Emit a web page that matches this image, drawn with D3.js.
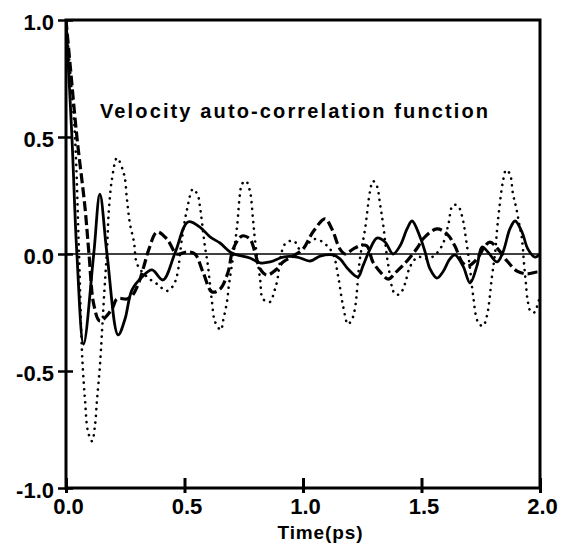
<!DOCTYPE html>
<html>
<head>
<meta charset="utf-8">
<script src="https://cdn.jsdelivr.net/npm/d3@7"></script>
<style>
  body { margin: 0; background: #fff; }
  text { font-family: "Liberation Sans", Arial, sans-serif; font-weight: bold; fill: #000; }
</style>
</head>
<body>
<div class="container"></div>
<script>
const width = 564;
const height = 548;
const plot = { left: 66, right: 540, top: 20, bottom: 488 };

const xTicks = [0, 0.5, 1.0, 1.5, 2.0];
const yTicks = [-1.0, -0.5, 0.0, 0.5, 1.0];
const title = 'Velocity auto-correlation function';
const xLabel = 'Time(ps)';

// [time (ps), value]
const solid = [
    [0, 1.0], [0.025, 0.5], [0.046, 0.0], [0.074, -0.385], [0.117, 0.0], [0.143, 0.256],
    [0.173, 0.0], [0.22, -0.346], [0.249, -0.278], [0.278, -0.154], [0.321, -0.098],
    [0.363, -0.068], [0.409, -0.111], [0.46, 0.004], [0.515, 0.137], [0.565, 0.115],
    [0.608, 0.073], [0.65, 0.047], [0.70, 0.004], [0.776, -0.017], [0.819, -0.038],
    [0.861, -0.034], [0.916, -0.013], [0.975, -0.013], [1.03, -0.03], [1.072, -0.009],
    [1.127, -0.004], [1.156, -0.021], [1.19, -0.064], [1.232, -0.098], [1.253, -0.051],
    [1.283, 0.021], [1.312, 0.068], [1.346, 0.051], [1.38, 0.0], [1.409, 0.034],
    [1.439, 0.107], [1.46, 0.141], [1.494, 0.073], [1.515, 0.009], [1.536, -0.064],
    [1.565, -0.103], [1.59, -0.077], [1.62, -0.021], [1.641, -0.004], [1.675, -0.051],
    [1.705, -0.124], [1.734, -0.051], [1.755, 0.03], [1.78, 0.009], [1.819, -0.034],
    [1.844, 0.009], [1.873, 0.107], [1.895, 0.141], [1.924, 0.094], [1.949, 0.021],
    [1.979, -0.013], [2.0, 0.0]
];

const dashed = [
    [0, 1.0], [0.02, 0.78], [0.046, 0.5], [0.08, 0.2], [0.097, 0.0], [0.118, -0.22],
    [0.143, -0.286], [0.194, -0.235], [0.215, -0.192], [0.257, -0.192], [0.278, -0.18],
    [0.308, -0.12], [0.329, -0.051], [0.35, 0.021], [0.384, 0.094], [0.426, 0.064],
    [0.468, 0.0], [0.511, 0.009], [0.544, 0.0], [0.578, -0.077], [0.616, -0.162],
    [0.65, -0.15], [0.684, -0.077], [0.705, 0.021], [0.743, 0.077], [0.776, 0.064],
    [0.797, 0.009], [0.819, -0.064], [0.848, -0.09], [0.89, -0.064], [0.916, -0.034],
    [0.958, -0.009], [1.0, 0.021], [1.042, 0.094], [1.093, 0.15], [1.122, 0.107],
    [1.156, 0.021], [1.177, 0.0], [1.211, 0.021], [1.249, 0.038], [1.27, 0.034],
    [1.295, -0.034], [1.333, -0.085], [1.359, -0.107], [1.397, -0.073], [1.439, -0.03],
    [1.485, 0.03], [1.506, 0.064], [1.565, 0.107], [1.608, 0.085], [1.641, 0.034],
    [1.671, -0.034], [1.696, -0.051], [1.734, -0.021], [1.768, 0.034], [1.789, 0.051],
    [1.823, 0.021], [1.861, -0.03], [1.903, -0.073], [1.945, -0.085], [1.987, -0.077],
    [2.0, -0.077]
];

const dotted = [
    [0, 1.0], [0.02, 0.75], [0.038, 0.5], [0.055, 0.0], [0.068, -0.43], [0.08, -0.62],
    [0.093, -0.76], [0.11, -0.80], [0.122, -0.735], [0.131, -0.62], [0.143, -0.48],
    [0.152, -0.33], [0.16, -0.19], [0.173, 0.02], [0.181, 0.19], [0.194, 0.32],
    [0.215, 0.41], [0.245, 0.34], [0.257, 0.235], [0.27, 0.128], [0.287, 0.05],
    [0.3, -0.043], [0.342, -0.098], [0.384, -0.128], [0.426, -0.158], [0.451, -0.137],
    [0.468, -0.094], [0.489, 0.064], [0.511, 0.192], [0.536, 0.278], [0.557, 0.248],
    [0.565, 0.205], [0.586, 0.034], [0.599, -0.051], [0.616, -0.205], [0.629, -0.29],
    [0.654, -0.325], [0.662, -0.29], [0.679, -0.205], [0.688, -0.128], [0.705, -0.013],
    [0.722, 0.12], [0.734, 0.256], [0.743, 0.3], [0.759, 0.312], [0.776, 0.269],
    [0.789, 0.15], [0.797, 0.064], [0.819, -0.107], [0.831, -0.192], [0.861, -0.205],
    [0.878, -0.162], [0.89, -0.12], [0.924, 0.043], [0.962, 0.056], [0.987, 0.021],
    [1.051, 0.064], [1.093, 0.043], [1.127, 0.0], [1.148, -0.094], [1.169, -0.222],
    [1.19, -0.3], [1.207, -0.278], [1.219, -0.235], [1.24, -0.021], [1.262, 0.107],
    [1.283, 0.269], [1.295, 0.312], [1.312, 0.29], [1.325, 0.214], [1.338, 0.128],
    [1.359, -0.043], [1.388, -0.171], [1.409, -0.171], [1.43, -0.128], [1.451, -0.056],
    [1.485, -0.013], [1.527, -0.021], [1.561, 0.0], [1.59, 0.043], [1.612, 0.12],
    [1.633, 0.209], [1.654, 0.205], [1.671, 0.162], [1.692, 0.034], [1.705, -0.064],
    [1.717, -0.171], [1.738, -0.29], [1.759, -0.308], [1.776, -0.265], [1.797, -0.098],
    [1.81, 0.0], [1.818, 0.094], [1.827, 0.184], [1.844, 0.312], [1.857, 0.359],
    [1.873, 0.342], [1.886, 0.256], [1.899, 0.2], [1.912, 0.13], [1.924, 0.064],
    [1.932, -0.034], [1.94, -0.12], [1.949, -0.205], [1.962, -0.248], [1.979, -0.248],
    [1.992, -0.205], [2.0, -0.19]
];

const x = d3.scaleLinear().domain([0, 2]).range([plot.left, plot.right]);
const y = d3.scaleLinear().domain([-1, 1]).range([plot.bottom, plot.top]);

const svg = d3.select('.container')
    .append('svg')
    .attr('width', width)
    .attr('height', height);

svg.append('clipPath')
    .attr('id', 'clip')
    .append('rect')
    .attr('x', plot.left)
    .attr('y', plot.top - 1)
    .attr('width', plot.right - plot.left)
    .attr('height', plot.bottom - plot.top + 2);

// zero line
svg.append('line')
    .attr('x1', x(0)).attr('x2', x(2))
    .attr('y1', y(0)).attr('y2', y(0))
    .style('stroke', '#000')
    .style('stroke-width', 1.6);

const line = d3.line()
    .x(d => x(d[0]))
    .y(d => y(d[1]))
    .curve(d3.curveCatmullRom.alpha(0.5));

const series = [
    { data: dotted, width: 2.6, dash: '0.1 6.5', cap: 'round' },
    { data: dashed, width: 3.2, dash: '10 4', cap: 'butt' },
    { data: solid, width: 2.8, dash: null, cap: 'butt' }
];

svg.append('g')
    .attr('clip-path', 'url(#clip)')
    .selectAll('path')
    .data(series)
    .join('path')
    .attr('d', d => line(d.data))
    .style('fill', 'none')
    .style('stroke', '#000')
    .style('stroke-width', d => d.width)
    .style('stroke-dasharray', d => d.dash)
    .style('stroke-linecap', d => d.cap)
    .style('stroke-linejoin', 'round');

// frame
svg.append('rect')
    .attr('x', plot.left)
    .attr('y', plot.top)
    .attr('width', plot.right - plot.left)
    .attr('height', plot.bottom - plot.top)
    .style('fill', 'none')
    .style('stroke', '#000')
    .style('stroke-width', 3);

// x axis
const xAxis = svg.append('g')
    .attr('transform', 'translate(0,' + plot.bottom + ')')
    .call(d3.axisBottom(x).tickValues(xTicks).tickFormat(d3.format('.1f')).tickSize(5).tickPadding(10));
xAxis.select('.domain').remove();
xAxis.selectAll('.tick line')
    .attr('y1', -10).attr('y2', 5)
    .style('stroke-width', 3);
xAxis.selectAll('.tick text')
    .attr('dy', 0)
    .attr('y', 26)
    .attr('dx', 2)
    .style('font-size', '22px')
    .style('font-family', '"Liberation Sans", Arial, sans-serif');

// y axis
const yAxis = svg.append('g')
    .attr('transform', 'translate(' + plot.left + ',0)')
    .call(d3.axisLeft(y).tickValues(yTicks).tickFormat(d3.format('.1f')).tickSize(8).tickPadding(5));
yAxis.select('.domain').remove();
yAxis.selectAll('.tick line')
    .attr('x1', -8).attr('x2', 7)
    .style('stroke-width', 2.5);
yAxis.selectAll('.tick text')
    .attr('x', -12)
    .attr('dy', '0.42em')
    .style('font-size', '22px')
    .style('font-family', '"Liberation Sans", Arial, sans-serif')
    .text(d => d3.format('.1f')(d).replace('\u2212', '-'));

svg.append('text')
    .attr('x', 100)
    .attr('y', 118)
    .attr('textLength', 388)
    .attr('lengthAdjust', 'spacing')
    .style('font-size', '20px')
    .text(title);

svg.append('text')
    .attr('x', 320)
    .attr('y', 539)
    .attr('text-anchor', 'middle')
    .attr('textLength', 85)
    .attr('lengthAdjust', 'spacing')
    .style('font-size', '19px')
    .text(xLabel);
</script>
</body>
</html>
